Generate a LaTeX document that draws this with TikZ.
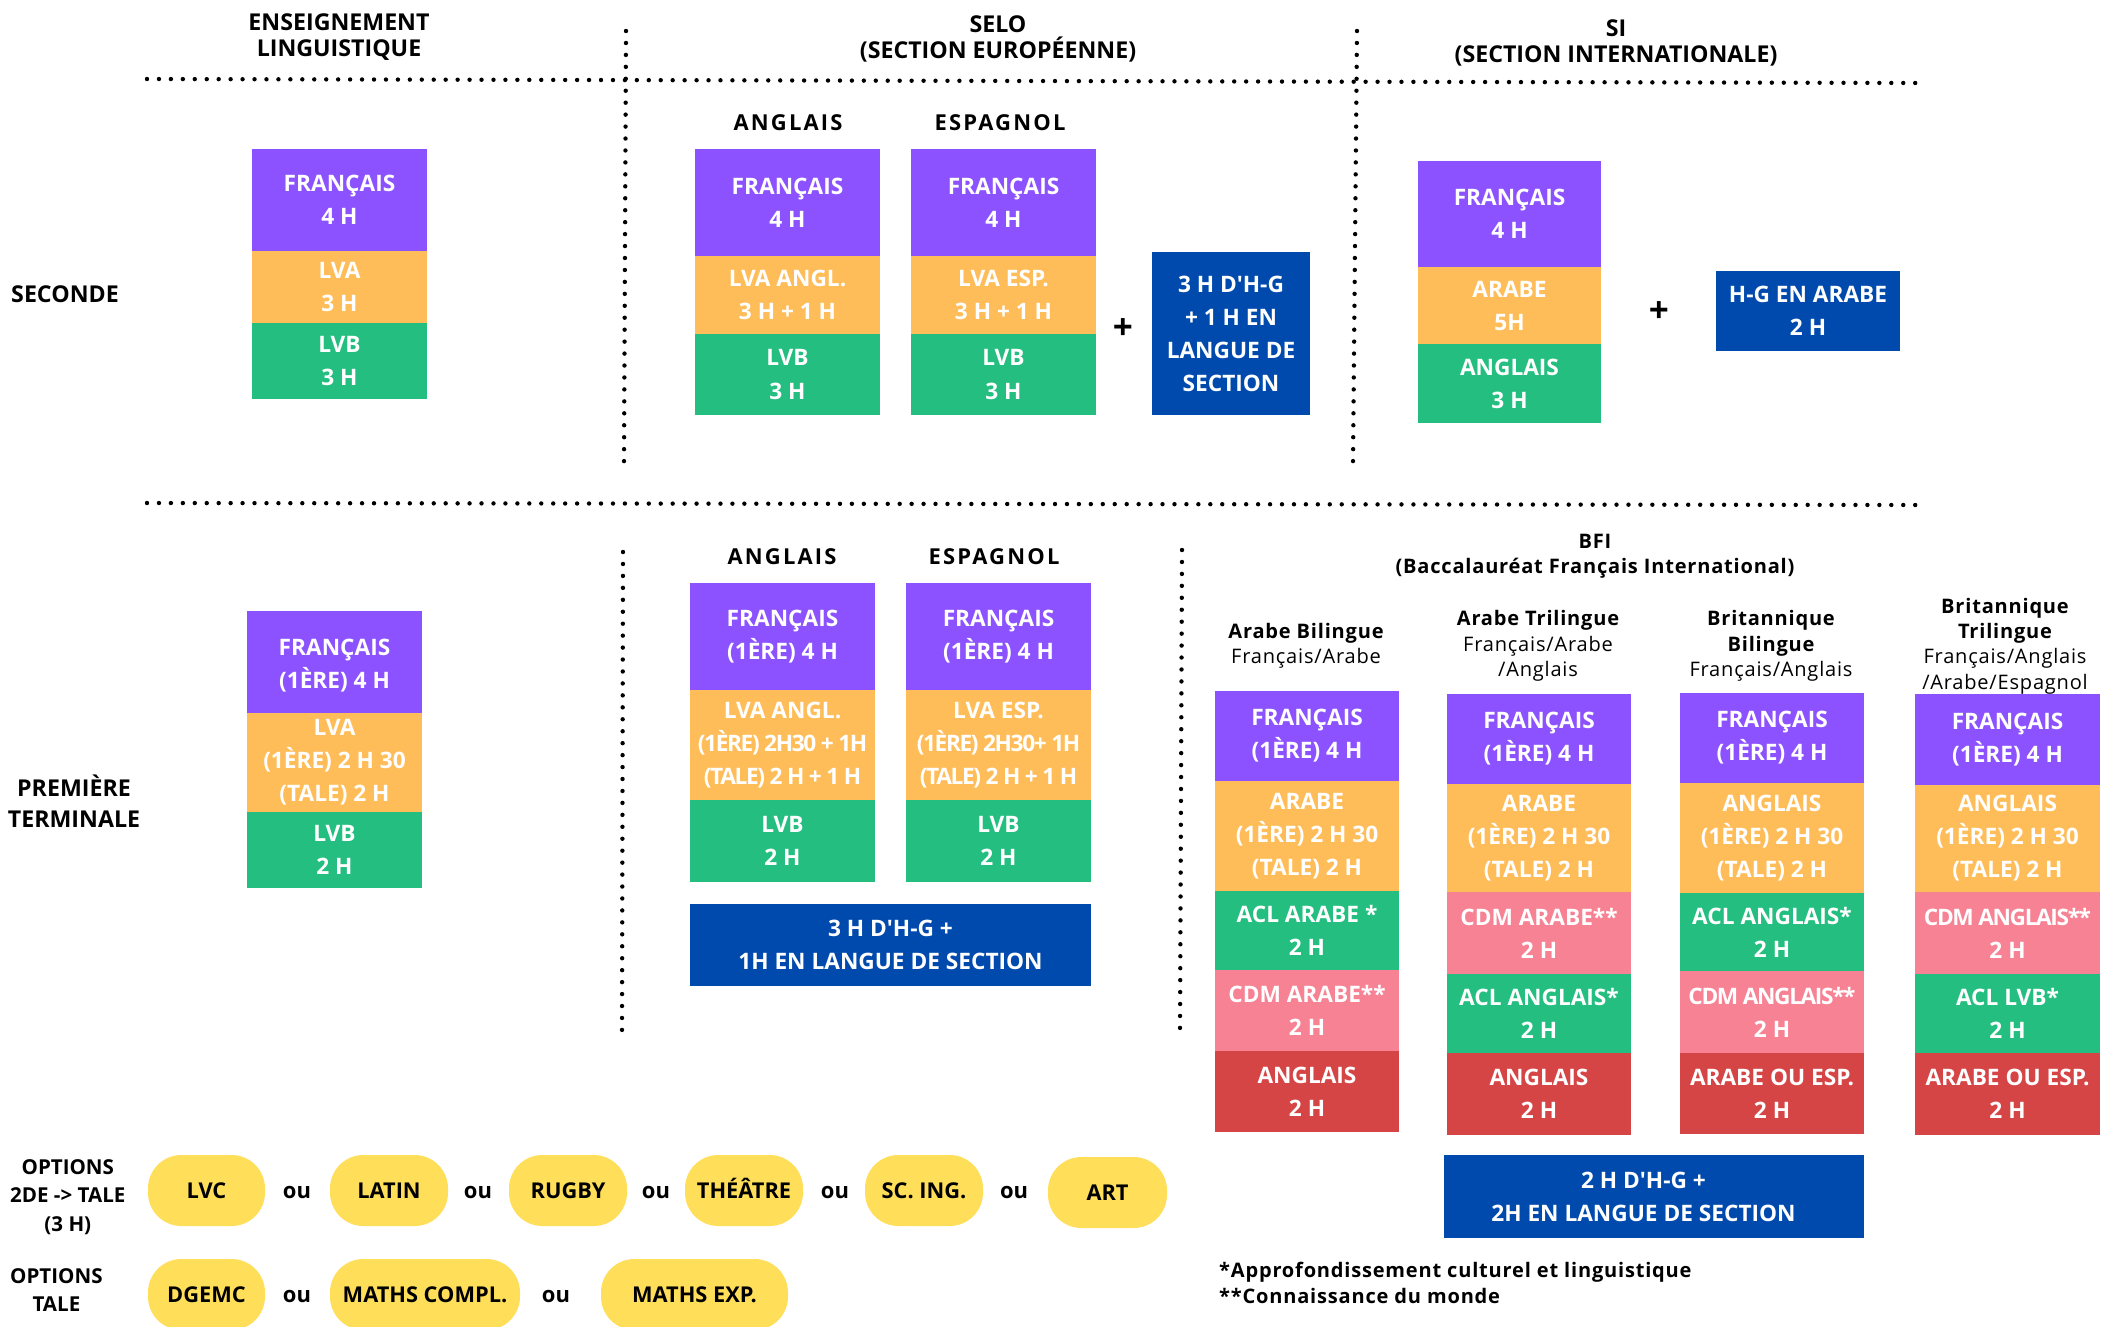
\documentclass[tikz,border=0pt]{standalone}
\usepackage{fontspec}
\setmainfont{Open Sans}[Ligatures=TeXOff]
\newfontfamily\spacedfont{Open Sans}[LetterSpace=10]
\newfontfamily\notefont{Open Sans}[LetterSpace=4]
\newfontfamily\tightfont{Open Sans}[LetterSpace=-6]
\usetikzlibrary{positioning}

\definecolor{frviolet}{HTML}{8C52FF}
\definecolor{lvaorange}{HTML}{FFBD59}
\definecolor{lvbgreen}{HTML}{24BF80}
\definecolor{cdmpink}{HTML}{F68294}
\definecolor{lastred}{HTML}{D64545}
\definecolor{hgblue}{HTML}{004AAD}
\definecolor{optyellow}{HTML}{FFDE59}

\tikzset{
  cell/.style={text=white,font=\fontsize{12.9}{18.8}\selectfont\bfseries,align=center,inner sep=0pt},
  sepline/.style={line width=2.5pt,line cap=round,dash pattern=on 0pt off 6.8pt},
  coltitle/.style={font=\fontsize{13.2}{15.2}\selectfont\bfseries,align=center},
  langtitle/.style={font=\spacedfont\fontsize{12.5}{15}\selectfont\bfseries},
  rowlabel/.style={font=\fontsize{13.2}{17.5}\selectfont\bfseries,align=center},
  optlabel/.style={font=\fontsize{11.7}{16.3}\selectfont\bfseries,align=center,anchor=west},
  bfihead/.style={font=\notefont\fontsize{11.4}{14.5}\selectfont,align=center},
  pill/.style={fill=optyellow,rounded corners=19pt},
  pilltext/.style={font=\fontsize{12.4}{14}\selectfont\bfseries,text height=8.8pt,text depth=0pt},
  ortext/.style={font=\fontsize{12.5}{14}\selectfont\bfseries},
  plus/.style={font=\fontsize{20}{20}\selectfont\bfseries}
}

\begin{document}
\begin{tikzpicture}[x=0.02cm,y=-0.02cm]
\useasboundingbox (0,0) rectangle (2101,1326);
\clip (0,0) rectangle (2101,1326);
\fill[white] (0,0) rectangle (2101,1326);

% titles and separators
\node[coltitle] (tens) at (339,37) {ENSEIGNEMENT\\LINGUISTIQUE};
\node[coltitle] (tselo) at (998,39) {SELO\\(SECTION EUROPÉENNE)};
\node[coltitle] (tsi) at (1616,43) {SI\\(SECTION INTERNATIONALE)};
\draw[sepline] (147,79) -- (1926,83);
\draw[sepline] (147,503) -- (1926,505);
\draw[sepline] (626,31) -- (624,462);
\draw[sepline] (1357,31) -- (1353,462);
\draw[sepline] (623,552) -- (622,1032);
\draw[sepline] (1182,550) -- (1180,1032);

\node[rowlabel] (seconde) at (65,294) {SECONDE};
\node[rowlabel] (premiere) at (74,801) {PREMIÈRE\\TERMINALE};

% seconde
\fill[frviolet] (252,149) rectangle node[cell] (a1) {FRANÇAIS\\4 H} (427,251);
\fill[lvaorange] (252,251) rectangle node[cell] (a2) {LVA\\3 H} (427,323);
\fill[lvbgreen] (252,323) rectangle node[cell] (a3) {LVB\\3 H} (427,399);

\node[langtitle] (ang1) at (788,123) {ANGLAIS};
\node[langtitle] (esp1) at (1000,123) {ESPAGNOL};
\fill[frviolet] (695,149) rectangle node[cell] (b1) {FRANÇAIS\\4 H} (880,256);
\fill[lvaorange] (695,256) rectangle node[cell] (b2) {LVA ANGL.\\3 H + 1 H} (880,334);
\fill[lvbgreen] (695,334) rectangle node[cell] (b3) {LVB\\3 H} (880,415);
\fill[frviolet] (911,149) rectangle node[cell] (c1) {FRANÇAIS\\4 H} (1096,256);
\fill[lvaorange] (911,256) rectangle node[cell] (c2) {LVA ESP.\\3 H + 1 H} (1096,334);
\fill[lvbgreen] (911,334) rectangle node[cell] (c3) {LVB\\3 H} (1096,415);
\node[plus] (plus1) at (1123,329) {+};
\fill[hgblue] (1152,252) rectangle node[cell] (d1) {3 H D'H-G\\+ 1 H EN\\LANGUE DE\\SECTION} (1310,415);

\fill[frviolet] (1418,161) rectangle node[cell] (e1) {FRANÇAIS\\4 H} (1601,267);
\fill[lvaorange] (1418,267) rectangle node[cell] (e2) {ARABE\\5H} (1601,344);
\fill[lvbgreen] (1418,344) rectangle node[cell] (e3) {ANGLAIS\\3 H} (1601,423);
\node[plus] (plus2) at (1659,312) {+};
\fill[hgblue] (1716,271) rectangle node[cell] (f1) {H-G EN ARABE\\2 H} (1900,351);

% premiere / terminale
\fill[frviolet] (247,611) rectangle node[cell,yshift=-2pt] (g1) {FRANÇAIS\\(1ÈRE) 4 H} (422,713);
\fill[lvaorange] (247,713) rectangle node[cell] (g2) {LVA\\(1ÈRE) 2 H 30\\(TALE) 2 H} (422,812);
\fill[lvbgreen] (247,812) rectangle node[cell] (g3) {LVB\\2 H} (422,888);

\node[langtitle] (ang2) at (782,557) {ANGLAIS};
\node[langtitle] (esp2) at (994,557) {ESPAGNOL};
\fill[frviolet] (690,583) rectangle node[cell] (h1) {FRANÇAIS\\(1ÈRE) 4 H} (875,690);
\fill[lvaorange] (690,690) rectangle node[cell] (h2) {LVA ANGL.\\{\tightfont(1ÈRE) 2H30 + 1H}\\{\tightfont(TALE) 2 H + 1 H}} (875,800);
\fill[lvbgreen] (690,800) rectangle node[cell] (h3) {LVB\\2 H} (875,882);
\fill[frviolet] (906,583) rectangle node[cell] (i1) {FRANÇAIS\\(1ÈRE) 4 H} (1091,690);
\fill[lvaorange] (906,690) rectangle node[cell] (i2) {LVA ESP.\\{\tightfont(1ÈRE) 2H30+ 1H}\\{\tightfont(TALE) 2 H + 1 H}} (1091,800);
\fill[lvbgreen] (906,800) rectangle node[cell] (i3) {LVB\\2 H} (1091,882);
\fill[hgblue] (690,904) rectangle node[cell] (j1) {3 H D'H-G +\\1H EN LANGUE DE SECTION} (1091,986);

% BFI
\node[bfihead] (tbfi) at (1595,556) {\bfseries BFI\\\bfseries(Baccalauréat Français International)};
\node[bfihead] (hA) at (1306,646) {{\bfseries Arabe Bilingue}\\Français/Arabe};
\node[bfihead] (hB) at (1538,646) {{\bfseries Arabe Trilingue}\\Français/Arabe\\/Anglais};
\node[bfihead] (hC) at (1771,646) {{\bfseries Britannique}\\{\bfseries Bilingue}\\Français/Anglais};
\node[bfihead] (hD) at (2005,646) {{\bfseries Britannique}\\{\bfseries Trilingue}\\Français/Anglais\\/Arabe/Espagnol};

\fill[frviolet] (1215,691) rectangle node[cell] (k1) {FRANÇAIS\\(1ÈRE) 4 H} (1399,781);
\fill[lvaorange] (1215,781) rectangle node[cell] (k2) {ARABE\\(1ÈRE) 2 H 30\\(TALE) 2 H} (1399,891);
\fill[lvbgreen] (1215,891) rectangle node[cell] (k3) {ACL ARABE *\\2 H} (1399,970);
\fill[cdmpink] (1215,970) rectangle node[cell] (k4) {CDM ARABE**\\2 H} (1399,1051);
\fill[lastred] (1215,1051) rectangle node[cell] (k5) {ANGLAIS\\2 H} (1399,1132);

\fill[frviolet] (1447,694) rectangle node[cell] (l1) {FRANÇAIS\\(1ÈRE) 4 H} (1631,784);
\fill[lvaorange] (1447,784) rectangle node[cell] (l2) {ARABE\\(1ÈRE) 2 H 30\\(TALE) 2 H} (1631,892);
\fill[cdmpink] (1447,892) rectangle node[cell] (l3) {CDM ARABE**\\2 H} (1631,974);
\fill[lvbgreen] (1447,974) rectangle node[cell] (l4) {ACL ANGLAIS*\\2 H} (1631,1053);
\fill[lastred] (1447,1053) rectangle node[cell] (l5) {ANGLAIS\\2 H} (1631,1135);

\fill[frviolet] (1680,693) rectangle node[cell] (m1) {FRANÇAIS\\(1ÈRE) 4 H} (1864,783);
\fill[lvaorange] (1680,783) rectangle node[cell] (m2) {ANGLAIS\\(1ÈRE) 2 H 30\\(TALE) 2 H} (1864,893);
\fill[lvbgreen] (1680,893) rectangle node[cell] (m3) {ACL ANGLAIS*\\2 H} (1864,971);
\fill[cdmpink] (1680,971) rectangle node[cell] (m4) {{\tightfont CDM ANGLAIS**}\\2 H} (1864,1053);
\fill[lastred] (1680,1053) rectangle node[cell] (m5) {ARABE OU ESP.\\2 H} (1864,1134);

\fill[frviolet] (1915,694) rectangle node[cell] (n1) {FRANÇAIS\\(1ÈRE) 4 H} (2100,785);
\fill[lvaorange] (1915,785) rectangle node[cell] (n2) {ANGLAIS\\(1ÈRE) 2 H 30\\(TALE) 2 H} (2100,892);
\fill[cdmpink] (1915,892) rectangle node[cell] (n3) {{\tightfont CDM ANGLAIS**}\\2 H} (2100,974);
\fill[lvbgreen] (1915,974) rectangle node[cell] (n4) {ACL LVB*\\2 H} (2100,1053);
\fill[lastred] (1915,1053) rectangle node[cell] (n5) {ARABE OU ESP.\\2 H} (2100,1135);

\fill[hgblue] (1444,1155) rectangle node[cell,xshift=-6pt] (o1) {2 H D'H-G +\\2H EN LANGUE DE SECTION} (1864,1238);

\node[bfihead,align=left,anchor=west] (notes) at (1213,1283) {\bfseries*Approfondissement culturel et linguistique\\\bfseries**Connaissance du monde};

% options
\node[optlabel] (opt1) at (4,1197) {OPTIONS\\2DE -> TALE\\(3 H)};
\node[optlabel] (opt2) at (4,1290) {OPTIONS\\TALE};

\fill[pill] (148,1155) rectangle node[pilltext] (p1) {LVC} (265,1226);
\node[ortext] (ou1) at (297,1192) {ou};
\fill[pill] (330,1155) rectangle node[pilltext] (p2) {LATIN} (448,1226);
\node[ortext] (ou2) at (478,1192) {ou};
\fill[pill] (509,1155) rectangle node[pilltext] (p3) {RUGBY} (627,1226);
\node[ortext] (ou3) at (656,1192) {ou};
\fill[pill] (685,1155) rectangle node[pilltext] (p4) {THÉÂTRE} (803,1226);
\node[ortext] (ou4) at (835,1192) {ou};
\fill[pill] (865,1155) rectangle node[pilltext] (p5) {SC. ING.} (983,1226);
\node[ortext] (ou5) at (1014,1192) {ou};
\fill[pill] (1048,1157) rectangle node[pilltext] (p6) {ART} (1167,1228);

\fill[pill] (148,1259) rectangle node[pilltext] (q1) {DGEMC} (265,1330);
\node[ortext] (ou6) at (297,1296) {ou};
\fill[pill] (330,1259) rectangle node[pilltext] (q2) {MATHS COMPL.} (520,1330);
\node[ortext] (ou7) at (556,1296) {ou};
\fill[pill] (601,1259) rectangle node[pilltext] (q3) {MATHS EXP.} (788,1330);

\end{tikzpicture}
\end{document}
